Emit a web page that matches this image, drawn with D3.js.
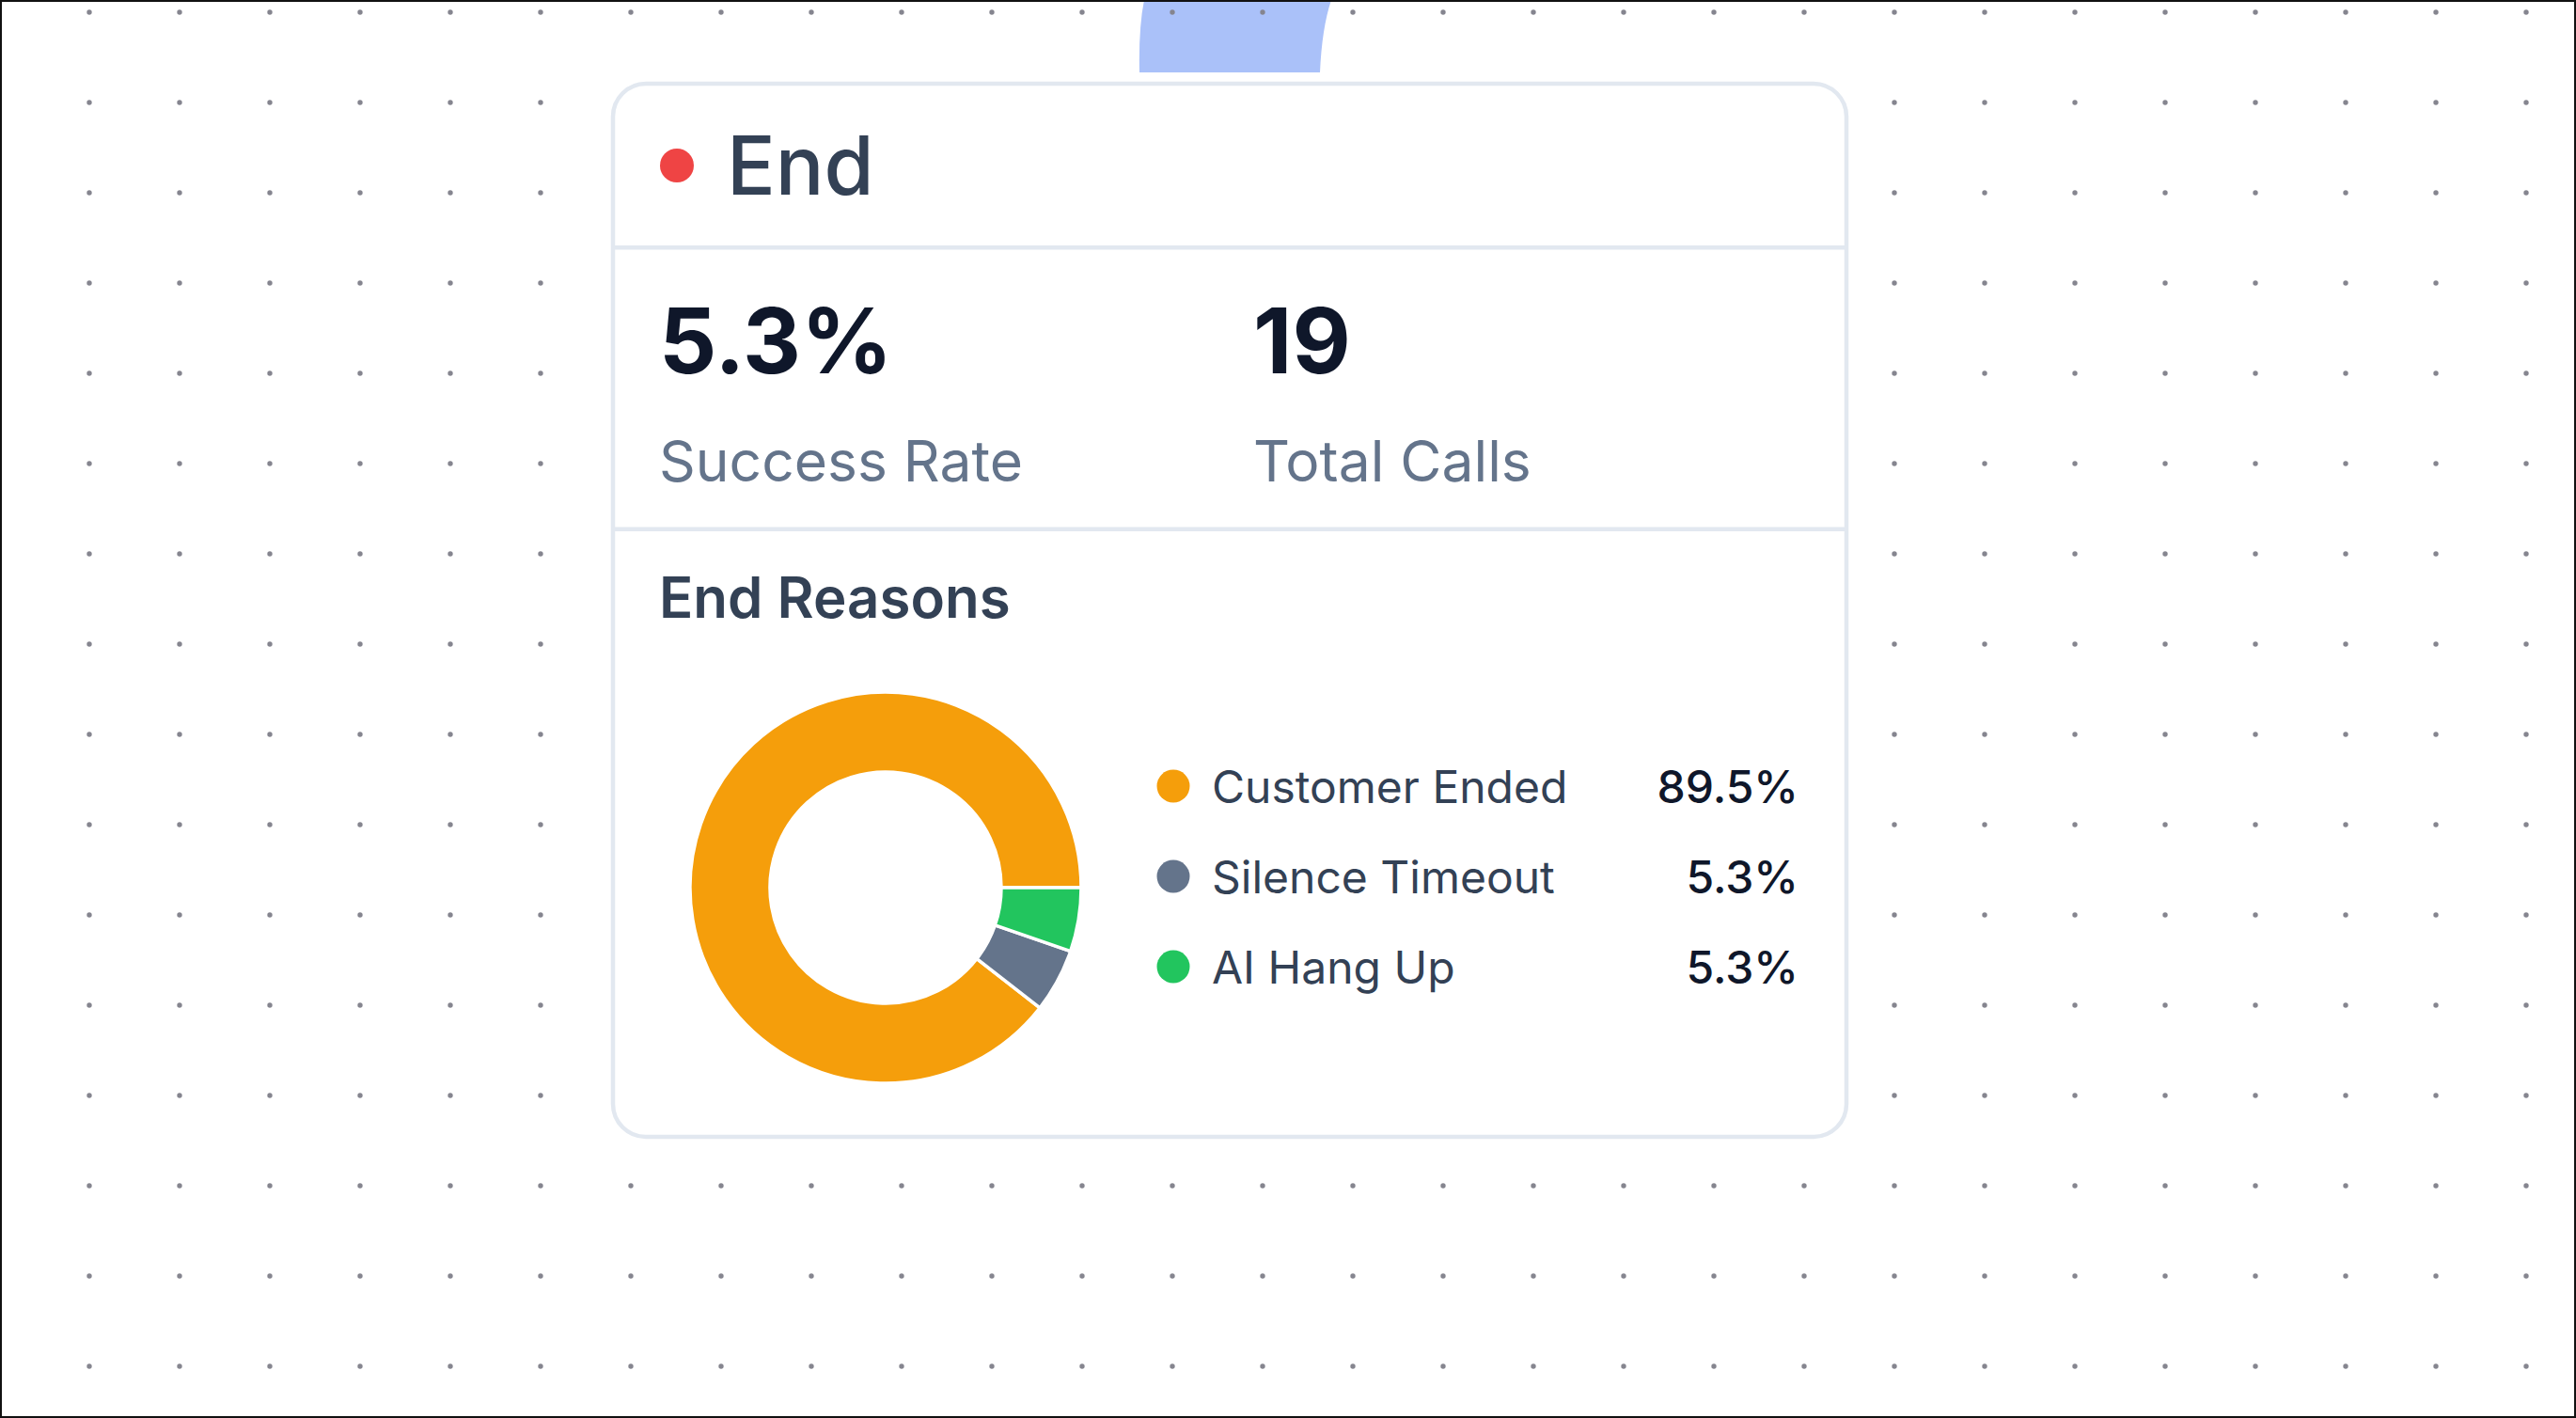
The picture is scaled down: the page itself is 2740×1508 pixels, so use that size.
<!DOCTYPE html>
<html>
<head>
<meta charset="utf-8">
<script src="https://cdn.jsdelivr.net/npm/d3@7"></script>
<style>
  html, body { margin: 0; padding: 0; background: #fff; }
  svg { display: block; font-family: Inter, "Noto Sans", sans-serif; }
</style>
</head>
<body>
<svg id="chart" width="2740" height="1508"></svg>
<script>
// ---- data ----
const nodeTitle = "End";
const statLabels = ["Success Rate", "Total Calls"];
const statValues = ["5.3%", "19"];
const sectionTitle = "End Reasons";
const reasons = ["Customer Ended", "Silence Timeout", "AI Hang Up"];
const reasonCounts = [17, 1, 1];
const reasonColors = ["#f59e0b", "#64748b", "#22c55e"];

const W = 2740, H = 1508;
const svg = d3.select("#chart");

// ---- background dot grid ----
const defs = svg.append("defs");
const pat = defs.append("pattern")
  .attr("id", "dots").attr("patternUnits", "userSpaceOnUse")
  .attr("width", 96).attr("height", 96)
  .attr("x", 95 - 48).attr("y", 13 - 48);
pat.append("circle").attr("cx", 48).attr("cy", 48).attr("r", 2.7).attr("fill", "#85858f");

svg.append("rect").attr("width", W).attr("height", H).attr("fill", "#ffffff");

// partial blue node peeking from the top
svg.append("path")
  .attr("d", "M1217,0 Q1211,30 1212,77 L1404,77 Q1406,30 1416,0 Z")
  .attr("fill", "#aac1f9");

svg.append("rect").attr("width", W).attr("height", H).attr("fill", "url(#dots)");

// ---- card ----
const card = { x: 652, y: 89, w: 1312, h: 1120 };
svg.append("rect")
  .attr("x", card.x).attr("y", card.y).attr("width", card.w).attr("height", card.h)
  .attr("rx", 35).attr("fill", "#ffffff")
  .attr("stroke", "#e2e8f0").attr("stroke-width", 4.5);

[263, 562.5].forEach(y => {
  svg.append("rect").attr("x", card.x).attr("y", y - 2).attr("width", card.w).attr("height", 4.5)
    .attr("fill", "#e2e8f0");
});

// header
svg.append("circle").attr("cx", 720).attr("cy", 176).attr("r", 18).attr("fill", "#ef4444");
svg.append("text").attr("x", 773).attr("y", 207)
  .attr("font-size", 86).attr("font-weight", 500).attr("fill", "#334155")
  .text(nodeTitle);

// stats
const statX = [701, 1333];
statValues.forEach((v, i) => {
  svg.append("text").attr("x", statX[i]).attr("y", 397)
    .attr("font-size", 96).attr("font-weight", 700).attr("fill", "#0f172a")
    .text(v);
  svg.append("text").attr("x", statX[i]).attr("y", 512)
    .attr("font-size", 60.5).attr("font-weight", 400).attr("fill", "#64748b")
    .text(statLabels[i]);
});

// section title
svg.append("text").attr("x", 701).attr("y", 657)
  .attr("font-size", 60).attr("font-weight", 600).attr("fill", "#334155")
  .text(sectionTitle);

// ---- donut ----
const total = d3.sum(reasonCounts);
const data = reasons.map((r, i) => ({ name: r, value: reasonCounts[i], color: reasonColors[i] }));
const pie = d3.pie().value(d => d.value).sort(null)
  .startAngle(Math.PI / 2).endAngle(Math.PI / 2 - 2 * Math.PI);
const arc = d3.arc().innerRadius(123).outerRadius(208);
const g = svg.append("g").attr("transform", "translate(942,944)");
g.selectAll("path").data(pie(data)).join("path")
  .attr("d", arc)
  .attr("fill", d => d.data.color)
  .attr("stroke", "#ffffff").attr("stroke-width", 3.5).attr("stroke-linejoin", "round");

// ---- legend ----
const fmt = d3.format(".1%");
const rowY = d3.scalePoint().domain(reasons).range([836, 1028]);
const leg = svg.append("g");
const rows = leg.selectAll("g").data(data).join("g")
  .attr("transform", d => `translate(0,${rowY(d.name)})`);
rows.append("circle").attr("cx", 1248).attr("cy", 0).attr("r", 17.5).attr("fill", d => d.color);
rows.append("text").attr("x", 1289).attr("y", 17.5)
  .attr("font-size", 48).attr("font-weight", 400).attr("fill", "#334155")
  .text(d => d.name);
rows.append("text").attr("x", 1913).attr("y", 17.5).attr("text-anchor", "end")
  .attr("font-size", 48).attr("font-weight", 500).attr("fill", "#0f172a")
  .text(d => fmt(d.value / total));

// outer frame
svg.append("rect").attr("x", 1).attr("y", 1).attr("width", W - 2).attr("height", H - 2)
  .attr("fill", "none").attr("stroke", "#111111").attr("stroke-width", 2);
</script>
</body>
</html>
